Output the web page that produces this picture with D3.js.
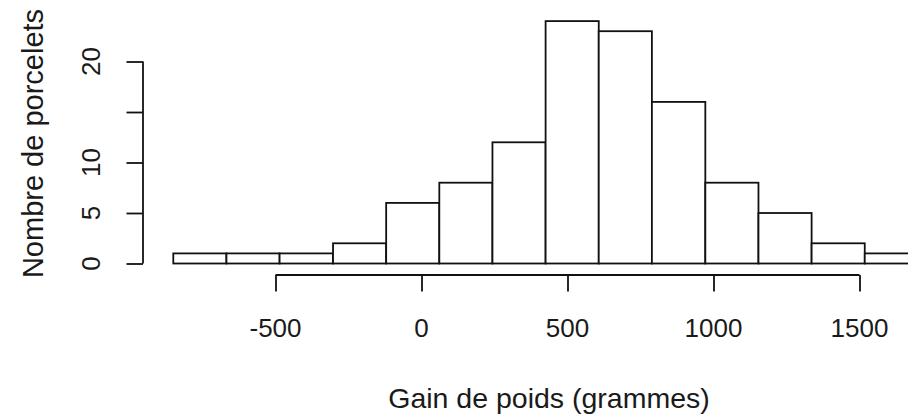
<!DOCTYPE html>
<html>
<head>
<meta charset="utf-8">
<script src="https://cdn.jsdelivr.net/npm/d3@7"></script>
<style>
  html, body { margin: 0; padding: 0; background: #fff; }
  svg { display: block; }
  text { font-family: "Liberation Sans", Arial, sans-serif; fill: #1a1a1a; }
</style>
</head>
<body>
<svg id="chart" width="908" height="414"></svg>
<script>
// Histogram bins: break points (grams) and number of piglets in each bin
const breaks = [-850, -668, -486, -303, -121, 61, 243, 425, 607, 789, 972, 1154, 1336, 1518, 1700];
const counts = [1, 1, 1, 2, 6, 8, 12, 24, 23, 16, 8, 5, 2, 1];

// Axis ticks
const xTicks = [-500, 0, 500, 1000, 1500];
const yTicks = [0, 5, 10, 15, 20];
const yTickLabels = [0, 5, 10, 20];   // 15 is left unlabelled (too crowded)

const xTitle = "Gain de poids (grammes)";
const yTitle = "Nombre de porcelets";

const bins = counts.map((c, i) => ({ x0: breaks[i], x1: breaks[i + 1], n: c }));

const svg = d3.select("#chart");

const x = d3.scaleLinear().domain([-500, 1500]).range([275.5, 859.5]);
const y = d3.scaleLinear().domain([0, 20]).range([263.5, 61.5]);

const stroke = "#111";
const lw = 1.8;

// Bars
svg.append("g")
  .selectAll("rect")
  .data(bins)
  .join("rect")
  .attr("x", d => x(d.x0))
  .attr("y", d => y(d.n))
  .attr("width", d => x(d.x1) - x(d.x0))
  .attr("height", d => y(0) - y(d.n))
  .attr("fill", "#fff")
  .attr("stroke", stroke)
  .attr("stroke-width", lw);

// X axis (detached below the bars, as in base graphics)
const xAxisY = 275;
const gx = svg.append("g").attr("transform", `translate(0,${xAxisY})`);
gx.call(d3.axisBottom(x).tickValues(xTicks).tickSize(16.5).tickSizeOuter(0).tickFormat(() => ""));
gx.select(".domain").attr("d", `M${x(xTicks[0])},0H${x(xTicks[xTicks.length - 1])}`)
  .attr("stroke", stroke).attr("stroke-width", lw);
gx.selectAll(".tick line").attr("stroke", stroke).attr("stroke-width", lw);

svg.append("g")
  .selectAll("text")
  .data(xTicks)
  .join("text")
  .attr("x", d => x(d))
  .attr("y", 337)
  .attr("text-anchor", "middle")
  .style("font-size", "26px")
  .text(d => d3.format("d")(d).replace("−", "-"));

// Y axis
const yAxisX = 143;
const gy = svg.append("g").attr("transform", `translate(${yAxisX},0)`);
gy.call(d3.axisLeft(y).tickValues(yTicks).tickSize(16.5).tickSizeOuter(0).tickFormat(() => ""));
gy.select(".domain").attr("d", `M0,${y(yTicks[0])}V${y(yTicks[yTicks.length - 1])}`)
  .attr("stroke", stroke).attr("stroke-width", lw);
gy.selectAll(".tick line").attr("stroke", stroke).attr("stroke-width", lw);

svg.append("g")
  .selectAll("text")
  .data(yTickLabels)
  .join("text")
  .attr("transform", d => `translate(100,${y(d)}) rotate(-90)`)
  .attr("text-anchor", "middle")
  .style("font-size", "26px")
  .text(d => d);

// Axis titles
svg.append("text")
  .attr("x", 549)
  .attr("y", 408)
  .attr("text-anchor", "middle")
  .style("font-size", "28.5px")
  .text(xTitle);

svg.append("text")
  .attr("transform", `translate(43,143.5) rotate(-90)`)
  .attr("text-anchor", "middle")
  .style("font-size", "29px")
  .text(yTitle);
</script>
</body>
</html>
